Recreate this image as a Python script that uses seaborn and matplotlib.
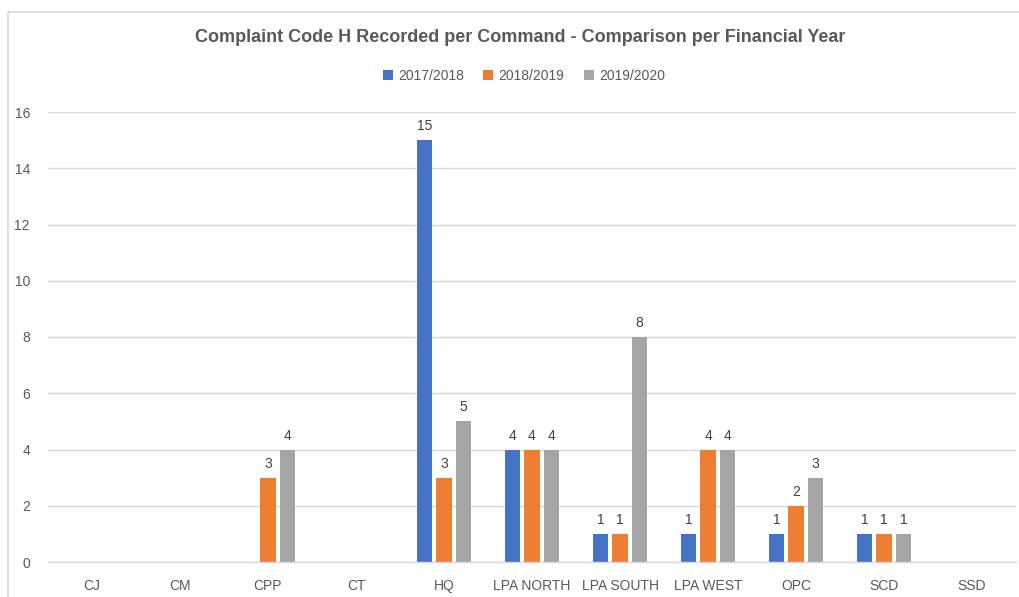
import matplotlib
matplotlib.use("Agg")
import matplotlib.pyplot as plt
import seaborn as sns
import pandas as pd
from matplotlib.lines import Line2D

categories = ["CJ", "CM", "CPP", "CT", "HQ", "LPA NORTH", "LPA SOUTH", "LPA WEST", "OPC", "SCD", "SSD"]
years = ["2017/2018", "2018/2019", "2019/2020"]
v2017 = [0, 0, 0, 0, 15, 4, 1, 1, 1, 1, 0]
v2018 = [0, 0, 3, 0, 3, 4, 1, 4, 2, 1, 0]
v2019 = [0, 0, 4, 0, 5, 4, 8, 4, 3, 1, 0]
colors = ["#4472C4", "#ED7D31", "#A5A5A5"]

rows = []
for yr, vals in zip(years, [v2017, v2018, v2019]):
    for c, v in zip(categories, vals):
        rows.append({"Command": c, "Year": yr, "Count": v})
df = pd.DataFrame(rows)

sns.set_theme(style="white")
plt.rcParams['font.family'] = ['Liberation Sans', 'DejaVu Sans']

fig = plt.figure(figsize=(10.19, 5.97), dpi=100)
ax = fig.add_axes([48 / 1019, 35 / 597, 968 / 1019, 450 / 597])

sns.barplot(data=df, x="Command", y="Count", hue="Year", order=categories,
            hue_order=years, palette=colors, width=0.665, gap=0.19,
            saturation=1, ax=ax, legend=True, linewidth=0, edgecolor="none")

for cont in ax.containers:
    labels = [f"{int(b.get_height())}" if b.get_height() > 0 else "" for b in cont]
    ax.bar_label(cont, labels=labels, padding=5, fontsize=10, color="#404040")

ax.set_ylim(0, 16)
ax.set_yticks(range(0, 17, 2))
ax.set_xlim(-0.5, len(categories) - 0.5)
ax.yaxis.grid(True, color="#D9D9D9", linewidth=1)
ax.set_axisbelow(True)
for s in ["top", "right", "left"]:
    ax.spines[s].set_visible(False)
ax.spines["bottom"].set_color("#D9D9D9")
ax.spines["bottom"].set_linewidth(1)
ax.set_xlabel("")
ax.set_ylabel("")
ax.tick_params(axis="x", length=0, pad=12, labelsize=10, labelcolor="#595959")
ax.tick_params(axis="y", length=0, pad=13, labelsize=10, labelcolor="#595959")

leg = ax.get_legend()
handles, labels = ax.get_legend_handles_labels()
leg.remove()
fig.legend(handles, labels, loc="center", bbox_to_anchor=(524 / 1019, 0.873), ncol=3,
           frameon=False, fontsize=10, handlelength=0.7, handleheight=0.7,
           columnspacing=1.4, handletextpad=0.4, labelcolor="#595959")

fig.text(520 / 1019, 0.937, "Complaint Code H Recorded per Command - Comparison per Financial Year",
         ha="center", va="center", fontsize=13, fontweight="bold", color="#595959")

bx = 7.5 / 1019
by = (597 - 11.5) / 597
fig.lines.append(Line2D([bx, bx], [0, by], transform=fig.transFigure,
                        color="#D9D9D9", linewidth=1.2))
fig.lines.append(Line2D([bx, 1], [by, by], transform=fig.transFigure,
                        color="#D9D9D9", linewidth=1.2))

fig.savefig("out.png", dpi=100)
